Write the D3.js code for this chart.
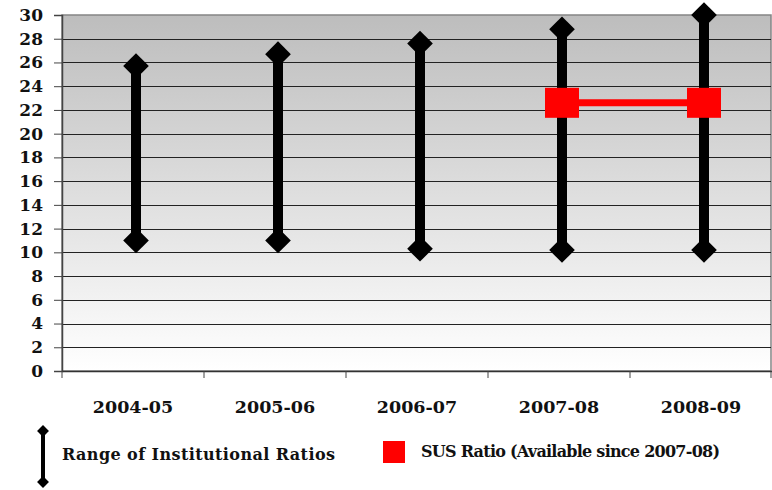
<!DOCTYPE html>
<html>
<head>
<meta charset="utf-8">
<script src="https://cdn.jsdelivr.net/npm/d3@7"></script>
<style>
    body { margin: 0; background: #fff; }
    svg { display: block; }
    text { font-family: "DejaVu Serif", "Liberation Serif", serif; font-weight: bold; fill: #111; }
</style>
</head>
<body>
<svg width="772" height="490"></svg>
<script>
// chart values
var years = ["2004-05", "2005-06", "2006-07", "2007-08", "2008-09"];
var rangeHigh = [25.7, 26.7, 27.6, 28.8, 30.0];
var rangeLow = [11.0, 11.0, 10.3, 10.2, 10.2];
var susYears = ["2007-08", "2008-09"];
var susValues = [22.6, 22.6];
var yTicks = [0, 2, 4, 6, 8, 10, 12, 14, 16, 18, 20, 22, 24, 26, 28, 30];

(function () {
    var svg = d3.select("svg"),
        plot = {left: 62, right: 771, top: 15, bottom: 371};

    var scaleX = d3.scaleBand().domain(years).range([plot.left, plot.right + 1]).padding(0),
        scaleY = d3.scaleLinear().domain([0, 30]).range([plot.bottom, plot.top]);

    var cx = function (yr) { return scaleX(yr) + scaleX.bandwidth() / 2 + 3; };

    var defs = svg.append("defs");
    var grad = defs.append("linearGradient")
        .attr("id", "bg").attr("x1", 0).attr("y1", 0).attr("x2", 0).attr("y2", 1);
    grad.append("stop").attr("offset", "0%").attr("stop-color", "#bdbdbd");
    grad.append("stop").attr("offset", "100%").attr("stop-color", "#ffffff");

    // plot background
    svg.append("rect")
        .attr("x", plot.left).attr("y", plot.top)
        .attr("width", plot.right - plot.left).attr("height", plot.bottom - plot.top)
        .attr("fill", "url(#bg)")
        .attr("stroke", "#858585").attr("stroke-width", 1.5);

    // gridlines
    svg.append("g").selectAll("line")
        .data(yTicks.filter(function (d) { return d > 0 && d < 30; }))
        .enter().append("line")
        .attr("x1", plot.left).attr("x2", plot.right)
        .attr("y1", function (d) { return Math.round(scaleY(d)) + 0.5; })
        .attr("y2", function (d) { return Math.round(scaleY(d)) + 0.5; })
        .attr("stroke", "#222").attr("stroke-width", 1);

    // y axis
    var axisY = svg.append("g")
        .attr("transform", "translate(" + plot.left + ",0)")
        .call(d3.axisLeft(scaleY).tickValues(yTicks).tickSize(8).tickPadding(11));
    axisY.select(".domain").attr("stroke", "#444").attr("stroke-width", 1.5);
    axisY.selectAll(".tick line").attr("stroke", "#444");
    axisY.selectAll("text").style("font-size", "17px").attr("fill", "#111")
        .style("font-family", "DejaVu Serif").style("font-weight", "bold");

    // x axis
    var axisX = svg.append("g")
        .attr("transform", "translate(0," + plot.bottom + ")")
        .call(d3.axisBottom(scaleX).tickSize(0).tickPadding(30));
    axisX.select(".domain").attr("stroke", "#333").attr("stroke-width", 1.5);
    axisX.selectAll("text").style("font-size", "17.5px").attr("fill", "#111")
        .style("font-family", "DejaVu Serif").style("font-weight", "bold");
    axisX.append("g").selectAll("line")
        .data(years.concat(["end"]))
        .enter().append("line")
        .attr("x1", function (d, i) { return i < years.length ? scaleX(d) : plot.right; })
        .attr("x2", function (d, i) { return i < years.length ? scaleX(d) : plot.right; })
        .attr("y1", 0).attr("y2", 7)
        .attr("stroke", "#444");

    // range lines
    var diamond = d3.symbol().type(d3.symbolDiamond2).size(420);
    var ranges = years.map(function (yr, i) { return {year: yr, hi: rangeHigh[i], lo: rangeLow[i]}; });

    var rg = svg.append("g");
    rg.selectAll("line").data(ranges).enter().append("line")
        .attr("x1", function (d) { return cx(d.year); })
        .attr("x2", function (d) { return cx(d.year); })
        .attr("y1", function (d) { return scaleY(d.hi); })
        .attr("y2", function (d) { return scaleY(d.lo); })
        .attr("stroke", "#000").attr("stroke-width", 10);
    rg.selectAll("path.hi").data(ranges).enter().append("path")
        .attr("class", "hi")
        .attr("d", diamond)
        .attr("transform", function (d) { return "translate(" + cx(d.year) + "," + scaleY(d.hi) + ")"; })
        .attr("fill", "#000");
    rg.selectAll("path.lo").data(ranges).enter().append("path")
        .attr("class", "lo")
        .attr("d", diamond)
        .attr("transform", function (d) { return "translate(" + cx(d.year) + "," + scaleY(d.lo) + ")"; })
        .attr("fill", "#000");

    // SUS ratio
    var sus = susYears.map(function (yr, i) { return {year: yr, value: susValues[i]}; });
    var susLine = d3.line()
        .x(function (d) { return cx(d.year); })
        .y(function (d) { return scaleY(d.value); });
    svg.append("path").datum(sus)
        .attr("d", susLine)
        .attr("fill", "none").attr("stroke", "#ff0000").attr("stroke-width", 7);
    svg.append("g").selectAll("rect").data(sus).enter().append("rect")
        .attr("x", function (d) { return cx(d.year) - 17; })
        .attr("y", function (d) { return scaleY(d.value) - 15; })
        .attr("width", 34).attr("height", 30)
        .attr("fill", "#ff0000");

    // legend
    var lg = svg.append("g");
    lg.append("line").attr("x1", 43).attr("x2", 43).attr("y1", 431).attr("y2", 482)
        .attr("stroke", "#000").attr("stroke-width", 4);
    var smallDiamond = d3.symbol().type(d3.symbolDiamond2).size(90);
    [431, 482].forEach(function (yy) {
        lg.append("path").attr("d", smallDiamond)
            .attr("transform", "translate(43," + yy + ")").attr("fill", "#000");
    });
    lg.append("text").attr("x", 62).attr("y", 460)
        .attr("textLength", 273).attr("lengthAdjust", "spacing")
        .style("font-size", "16px").text("Range of Institutional Ratios");

    lg.append("rect").attr("x", 383).attr("y", 441).attr("width", 22).attr("height", 22)
        .attr("fill", "#ff0000");
    lg.append("text").attr("x", 421).attr("y", 457)
        .attr("textLength", 299).attr("lengthAdjust", "spacing")
        .style("font-size", "16px").text("SUS Ratio (Available since 2007-08)");
})();
</script>
</body>
</html>
